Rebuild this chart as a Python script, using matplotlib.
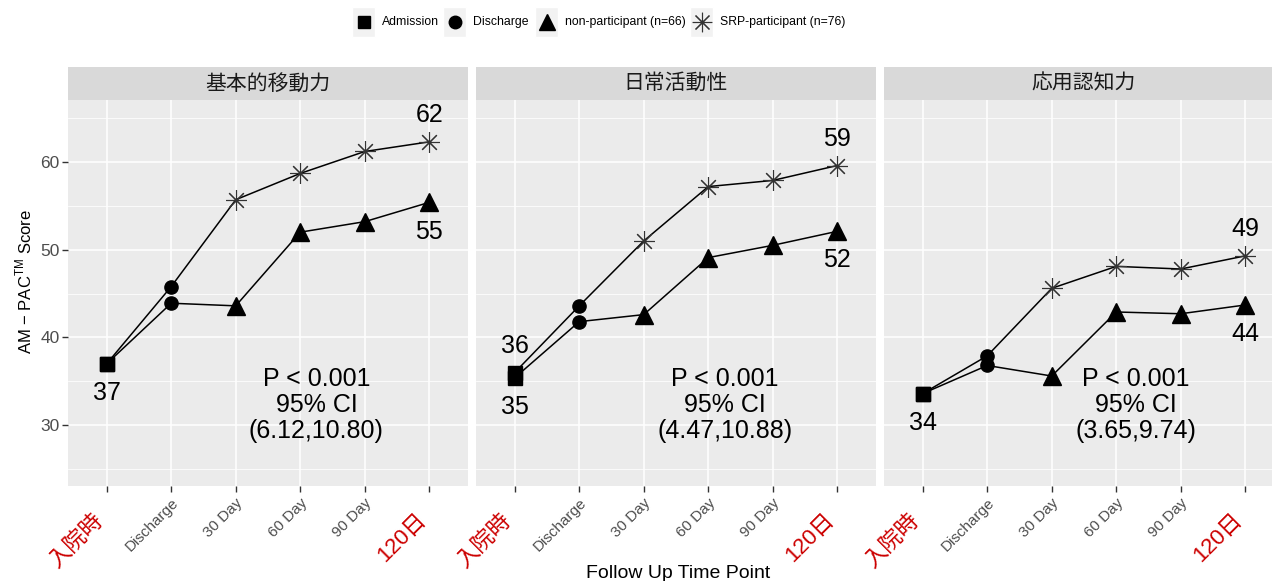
import matplotlib
matplotlib.use("Agg")
import matplotlib.pyplot as plt
from matplotlib.patches import Rectangle

plt.rcParams['font.family'] = ['Liberation Sans', 'Noto Sans CJK JP', 'DejaVu Sans']
plt.rcParams['mathtext.fontset'] = 'custom'
plt.rcParams['mathtext.rm'] = 'Liberation Sans'

# data
panels = ["基本的移動力", "日常活動性", "応用認知力"]
timepoints = ["入院時", "Discharge", "30 Day", "60 Day", "90 Day", "120日"]
red_ticks = ["入院時", "120日"]

srp_mobility = [37.0, 45.8, 55.7, 58.7, 61.2, 62.3]
non_mobility = [37.0, 43.9, 43.6, 52.0, 53.2, 55.4]
srp_activity = [36.0, 43.6, 51.0, 57.2, 57.9, 59.6]
non_activity = [35.4, 41.8, 42.6, 49.1, 50.5, 52.1]
srp_cognitive = [33.6, 37.9, 45.6, 48.1, 47.8, 49.3]
non_cognitive = [33.6, 36.8, 35.6, 42.9, 42.7, 43.7]

stats_text = ["P < 0.001\n95% CI\n(6.12,10.80)",
              "P < 0.001\n95% CI\n(4.47,10.88)",
              "P < 0.001\n95% CI\n(3.65,9.74)"]
stats_x = [3.25, 3.26, 3.3]
stats_y = 32.3

# value labels: (text, time index, series, up/down)
value_labels = [
    [("37", 0, "non", -1), ("62", 5, "srp", 1), ("55", 5, "non", -1)],
    [("36", 0, "srp", 1), ("35", 0, "non", -1), ("59", 5, "srp", 1), ("52", 5, "non", -1)],
    [("34", 0, "non", -1), ("49", 5, "srp", 1), ("44", 5, "non", -1)],
]

legend_labels = ["Admission", "Discharge", "non-participant (n=66)", "SRP-participant (n=76)"]

series = [(srp_mobility, non_mobility), (srp_activity, non_activity), (srp_cognitive, non_cognitive)]

W, H = 1272, 581
fig = plt.figure(figsize=(W / 100, H / 100), dpi=100)

lefts = [68, 476, 884]
pw = 400
top, bot = 100, 486
star = (8, 2, 0)
x = list(range(len(timepoints)))

for i, name in enumerate(panels):
    srp, non = series[i]
    ax = fig.add_axes([lefts[i] / W, 1 - bot / H, pw / W, (bot - top) / H])
    ax.set_facecolor('#EBEBEB')
    for s in ax.spines.values():
        s.set_visible(False)
    ax.set_xlim(-0.6, 5.6)
    ax.set_ylim(23.06, 67.07)
    ax.set_yticks([30, 40, 50, 60])
    ax.set_yticks([25, 35, 45, 55, 65], minor=True)
    ax.grid(which='major', color='white', lw=1.1)
    ax.grid(which='minor', axis='y', color='white', lw=0.55)
    ax.set_axisbelow(True)

    # grey tick labels on the axis, red ones drawn as separate text
    ax.set_xticks(x)
    ax.set_xticklabels(["" if t in red_ticks else t for t in timepoints],
                       rotation=45, ha='right', va='top', rotation_mode='anchor',
                       fontsize=11, color='#4D4D4D')
    for idx, t in enumerate(timepoints):
        if t in red_ticks:
            ax.annotate(t, xy=(idx, 0), xycoords=('data', 'axes fraction'),
                        xytext=(-10, -17), textcoords='offset points',
                        rotation=45, ha='right', va='top', rotation_mode='anchor',
                        fontsize=16, color='#CC0000', annotation_clip=False)
    ax.tick_params(axis='x', length=4, width=1, color='#333333', pad=3)
    ax.tick_params(axis='y', which='minor', left=False)
    if i == 0:
        ax.tick_params(axis='y', which='major', length=4, width=1, color='#333333',
                       labelsize=12.5, labelcolor='#4D4D4D', pad=2)
        ax.set_ylabel(r'AM $-$ PAC$^{\mathrm{TM}}$ Score', fontsize=12)
        ax.yaxis.set_label_coords(-0.085, 0.53)
    else:
        ax.tick_params(axis='y', which='major', left=False, labelleft=False)

    # lines
    ax.plot(x, non, color='black', lw=1.1, zorder=2)
    ax.plot(x, srp, color='black', lw=1.1, zorder=2)
    # markers
    ax.plot(x[0], non[0], 's', color='black', ms=9.5, zorder=3)
    ax.plot(x[0], srp[0], 's', color='black', ms=9.5, zorder=3)
    ax.plot(x[1], non[1], 'o', color='black', ms=9.5, zorder=3)
    ax.plot(x[1], srp[1], 'o', color='black', ms=9.5, zorder=3)
    ax.plot(x[2:], non[2:], '^', color='black', ms=13, zorder=3, lw=0)
    ax.plot(x[2:], srp[2:], marker=star, color='#333333', ms=15, mew=0.8, zorder=3, lw=0)

    for txt, idx, which, d in value_labels[i]:
        vals = srp if which == "srp" else non
        off = 19 if d > 0 else -21
        ax.annotate(txt, xy=(idx, vals[idx]), xytext=(0, off), textcoords='offset points',
                    ha='center', va='center', fontsize=18, color='black')

    ax.text(stats_x[i], stats_y, stats_text[i], ha='center', va='center',
            fontsize=18, linespacing=1.1)

    # strip
    sax = fig.add_axes([lefts[i] / W, 1 - top / H, pw / W, 33 / H])
    sax.set_facecolor('#D9D9D9')
    for s in sax.spines.values():
        s.set_visible(False)
    sax.set_xticks([])
    sax.set_yticks([])
    sax.text(0.5, 0.5, name, ha='center', va='center', fontsize=15, color='#1A1A1A',
             transform=sax.transAxes)

fig.text(678 / W, 1 - 573 / H, "Follow Up Time Point", ha='center', va='center', fontsize=14)

# legend drawn in pixel coordinates
lax = fig.add_axes([0, 0, 1, 1], facecolor='none')
lax.set_xlim(0, W)
lax.set_ylim(H, 0)
lax.axis('off')
key_x = [352, 443, 535, 690]
text_x = [382, 473, 565, 720]
key_markers = [('s', 9, 'black', 1), ('o', 9, 'black', 1), ('^', 12, 'black', 1), (star, 14, '#333333', 0.8)]
for kx, tx, lab, (m, ms, c, mew) in zip(key_x, text_x, legend_labels, key_markers):
    lax.add_patch(Rectangle((kx, 7), 23, 30, facecolor='#F2F2F2', edgecolor='white', lw=1))
    lax.plot(kx + 11.5, 22, marker=m, ms=ms, color=c, mew=mew, lw=0)
    lax.text(tx, 22, lab, ha='left', va='center', fontsize=8.8, color='black')

fig.savefig('out.png', dpi=100)
